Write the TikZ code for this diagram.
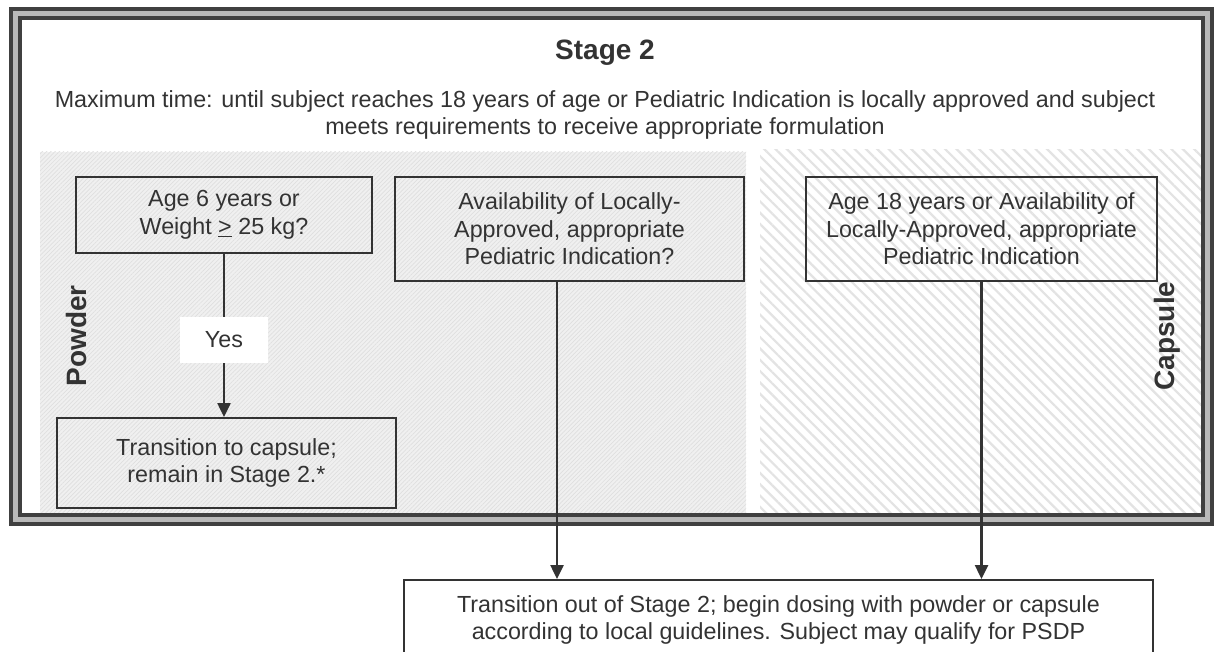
\documentclass[tikz,border=0pt]{standalone}
\usepackage{fontspec}
\setmainfont{Liberation Sans}
\usetikzlibrary{arrows.meta,patterns.meta,calc}
\begin{document}
\begin{tikzpicture}[x=1pt,y=-1pt,
  txt/.style={font=\fontsize{23.3}{27.5}\selectfont, text=black!80},
  box/.style={draw=black!80, line width=2pt, align=center, inner sep=0pt, txt, anchor=north west},
  line/.style={draw=black!80, line width=2.5pt},
  arr/.style={line, -{Triangle[width=13pt,length=14pt]}},
  lbl/.style={font=\bfseries\fontsize{28}{30}\selectfont, text=black!80, rotate=90},
]
\useasboundingbox (0,0) rectangle (1215,652);
\clip (0,0) rectangle (1215,652);
\fill[white] (0,0) rectangle (1215,652);
% shaded regions
\fill[gray!12] (40,152) rectangle (746,514);
\fill[pattern={Lines[angle=45,distance=3pt,line width=0.7pt]}, pattern color=gray!25] (40,152) rectangle (746,514);
\fill[pattern={Lines[angle=-45,distance=8pt,line width=2.2pt]}, pattern color=gray!22] (760,150) rectangle (1206,514);
% frame
\draw[line width=4pt, black!75, double=gray!55, double distance=5pt] (15,14) rectangle (1207,519);
% header
\node[font=\bfseries\fontsize{28}{30}\selectfont, text=black!80] (title) at (605,53) {Stage 2};
\node[txt, align=center] (maxt) at (605,115) {Maximum time: until subject reaches 18 years of age or Pediatric Indication is locally approved and subject\\meets requirements to receive appropriate formulation};
% boxes
\node[box, minimum width=296, minimum height=76] (A) at (75,176) {Age 6 years or\\Weight \underline{>} 25 kg?};
\node[box, minimum width=339, minimum height=90] (B) at (56,417) {Transition to capsule;\\remain in Stage 2.*};
\node[box, minimum width=349, minimum height=104] (C) at (394,176) {Availability of Locally-\\Approved, appropriate\\Pediatric Indication?};
\node[box, minimum width=351, minimum height=104] (D) at (805,176) {Age 18 years or Availability of\\Locally-Approved, appropriate\\Pediatric Indication};
\node[box, fill=white, minimum width=749, minimum height=80, font=\fontsize{23.3}{27}\selectfont] (E) at (403,579) {Transition out of Stage 2; begin dosing with powder or capsule\\according to local guidelines. Subject may qualify for PSDP};
% labels
\node[lbl] (powder) at (76,336) {Powder};
\node[lbl] (capsule) at (1167,336) {Capsule};
% yes label and connectors
\node[txt, fill=white, inner sep=0pt, minimum width=88, minimum height=46] (yes) at (A.south |- 0,340) {Yes};
\coordinate (cx) at (557,0);
\draw[line] (A.south) -- (yes.north);
\draw[arr] (yes.south) -- (yes.south |- B.north);
\draw[arr] (C.south -| cx) -- (E.north -| cx);
\draw[arr] (D.south) -- (D.south |- E.north);
\end{tikzpicture}
\end{document}
